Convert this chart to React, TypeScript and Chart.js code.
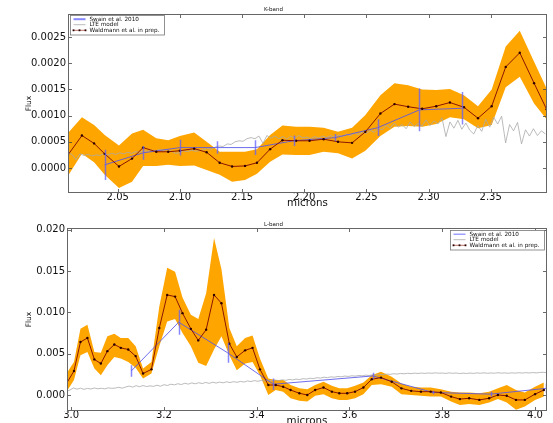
import { useEffect, useRef } from "react";
import { Chart, registerables } from "chart.js";

Chart.register(...registerables);

const FONT = "'DejaVu Sans', 'Liberation Sans', sans-serif";

// ---------- K-band ----------
const kWaveX = [2.010, 2.0212, 2.031, 2.0395, 2.051, 2.0615, 2.0704, 2.081, 2.0906, 2.100, 2.1115, 2.1215, 2.132, 2.142, 2.1524, 2.162, 2.1726, 2.1825, 2.1935, 2.2043, 2.2156, 2.2272, 2.2385, 2.2492, 2.2613, 2.2726, 2.2836, 2.2949, 2.3062, 2.3172, 2.3285, 2.3398, 2.3508, 2.3621, 2.3734, 2.3849, 2.395];
const kWaldmann = [0.00025, 0.00062, 0.00047, 0.00027, 0.00003, 0.00018, 0.00039, 0.00031, 0.00031, 0.00033, 0.00037, 0.00030, 0.00010, 0.00003, 0.00004, 0.00010, 0.00036, 0.00053, 0.00052, 0.00052, 0.00055, 0.00050, 0.00048, 0.00069, 0.00104, 0.00122, 0.00117, 0.00113, 0.00118, 0.00125, 0.00116, 0.00095, 0.00118, 0.00193, 0.00220, 0.00162, 0.00112];
const kUpper = [0.00067, 0.00097, 0.00082, 0.00063, 0.00043, 0.00066, 0.00073, 0.00057, 0.00053, 0.00061, 0.00068, 0.00050, 0.00031, 0.00031, 0.00031, 0.00036, 0.00063, 0.00081, 0.00079, 0.00079, 0.00077, 0.00069, 0.00077, 0.00101, 0.00139, 0.00162, 0.00158, 0.00150, 0.00149, 0.00151, 0.00139, 0.00118, 0.00150, 0.00232, 0.00262, 0.00203, 0.00152];
const kLower = [-0.00015, 0.00027, 0.00011, -0.00013, -0.00038, -0.00026, 0.00004, 0.00004, 0.00006, 0.00004, 0.00005, -0.00004, -0.00013, -0.00026, -0.00023, -0.00011, 0.00012, 0.00026, 0.00025, 0.00025, 0.00031, 0.00028, 0.00018, 0.00033, 0.00061, 0.00079, 0.00080, 0.00079, 0.00084, 0.00097, 0.00093, 0.00076, 0.00082, 0.00154, 0.00174, 0.00123, 0.00093];
const kSwainX = [2.0395, 2.0704, 2.100, 2.130, 2.1605, 2.1914, 2.225, 2.2591, 2.2927, 2.3266];
const kSwain = [0.00006, 0.00029, 0.00039, 0.00039, 0.00039, 0.00052, 0.00058, 0.00077, 0.00111, 0.00114];
const kSwainErr = [0.00029, 0.00013, 0.00015, 0.00012, 0.00014, 0.00010, 0.00007, 0.00016, 0.00041, 0.00031];
const kLteStart = 2.010;
const kLteStep = 0.0032;
const kLte = [
  0.00029, 0.00026, 0.00016, 0.00027, 0.00024, 0.00026, 0.00023, 0.00025, 0.00024, 0.00027,
  0.00025, 0.00028, 0.00026, 0.00029, 0.00027, 0.00030, 0.00028, 0.00031, 0.00030, 0.00033,
  0.00032, 0.00034, 0.00033, 0.00035, 0.00034, 0.00035, 0.00032, 0.00028, 0.00029, 0.00033,
  0.00031, 0.00034, 0.00032, 0.00033, 0.00035, 0.00037, 0.00036, 0.00040, 0.00042, 0.00041,
  0.00046, 0.00045, 0.00050, 0.00052, 0.00051, 0.00056, 0.00058, 0.00056, 0.00061, 0.00047,
  0.00062, 0.00057, 0.00061, 0.00056, 0.00060, 0.00055, 0.00061, 0.00057, 0.00062, 0.00058,
  0.00059, 0.00056, 0.00060, 0.00057, 0.00061, 0.00058, 0.00062, 0.00059, 0.00063, 0.00060,
  0.00065, 0.00062, 0.00067, 0.00064, 0.00069, 0.00066, 0.00072, 0.00068, 0.00076, 0.00073,
  0.00082, 0.00076, 0.00086, 0.00078, 0.00083, 0.00075, 0.00088, 0.00079, 0.00085, 0.00080,
  0.00092, 0.00081, 0.00090, 0.00084, 0.00096, 0.00060, 0.00088, 0.00076, 0.00091, 0.00074,
  0.00086, 0.00072, 0.00065, 0.00081, 0.00070, 0.00093, 0.00078, 0.00097, 0.00084, 0.00099,
  0.00048, 0.00083, 0.00071, 0.00087, 0.00046, 0.00073, 0.00061, 0.00075, 0.00062, 0.00071,
  0.00065,
];
const kXTicks = [2.05, 2.10, 2.15, 2.20, 2.25, 2.30, 2.35];
const kXTickLabels = ["2.05", "2.10", "2.15", "2.20", "2.25", "2.30", "2.35"];
const kYTicks = [0, 0.0005, 0.001, 0.0015, 0.002, 0.0025];
const kYTickLabels = ["0.0000", "0.0005", "0.0010", "0.0015", "0.0020", "0.0025"];

// ---------- L-band ----------
const lWaveX = [2.990, 3.006, 3.020, 3.035, 3.050, 3.064, 3.078, 3.093, 3.107, 3.123, 3.139, 3.155, 3.173, 3.190, 3.207, 3.224, 3.240, 3.258, 3.274, 3.291, 3.308, 3.324, 3.341, 3.357, 3.375, 3.391, 3.407, 3.425, 3.441, 3.457, 3.473, 3.492, 3.509, 3.526, 3.544, 3.562, 3.578, 3.595, 3.612, 3.630, 3.648, 3.668, 3.691, 3.712, 3.733, 3.754, 3.775, 3.797, 3.819, 3.838, 3.858, 3.880, 3.901, 3.920, 3.939, 3.959, 3.978, 4.000, 4.019];
const lWaldmann = [0.0014, 0.0029, 0.0064, 0.0069, 0.0043, 0.0038, 0.0053, 0.0061, 0.0057, 0.0055, 0.0047, 0.0026, 0.0031, 0.0081, 0.0121, 0.0119, 0.0099, 0.0080, 0.0066, 0.0079, 0.0121, 0.0111, 0.0062, 0.0046, 0.0054, 0.0057, 0.0031, 0.0012, 0.0012, 0.0010, 0.0006, 0.0002, 0.0000, 0.0006, 0.0009, 0.0004, 0.0002, 0.0002, 0.0004, 0.0009, 0.0019, 0.0021, 0.0016, 0.0008, 0.0005, 0.0004, 0.0004, 0.0003, -0.0002, -0.0005, -0.0004, -0.0006, -0.0004, 0.0000, -0.0001, -0.0006, -0.0006, 0.0001, 0.0006];
const lUpper = [0.0026, 0.0040, 0.0080, 0.0085, 0.0052, 0.0051, 0.0071, 0.0074, 0.0069, 0.0069, 0.0059, 0.0032, 0.0040, 0.0107, 0.0154, 0.0149, 0.0118, 0.0097, 0.0092, 0.0123, 0.0190, 0.0152, 0.0081, 0.0059, 0.0069, 0.0072, 0.0044, 0.0020, 0.0018, 0.0018, 0.0012, 0.0008, 0.0007, 0.0012, 0.0016, 0.0011, 0.0008, 0.0008, 0.0011, 0.0015, 0.0024, 0.0028, 0.0022, 0.0014, 0.0010, 0.0009, 0.0009, 0.0007, 0.0004, 0.0003, 0.0003, 0.0002, 0.0004, 0.0008, 0.0012, 0.0006, 0.0003, 0.0010, 0.0015];
const lLower = [0.0004, 0.0018, 0.0048, 0.0052, 0.0032, 0.0024, 0.0036, 0.0046, 0.0044, 0.0040, 0.0033, 0.0020, 0.0026, 0.0059, 0.0089, 0.0092, 0.0075, 0.0059, 0.0039, 0.0035, 0.0055, 0.0071, 0.0048, 0.0030, 0.0038, 0.0040, 0.0024, 0.0000, 0.0006, 0.0004, -0.0004, -0.0007, -0.0008, -0.0001, 0.0001, -0.0004, -0.0006, -0.0006, -0.0004, 0.0001, 0.0012, 0.0013, 0.0010, 0.0001, 0.0000, -0.0001, -0.0002, -0.0002, -0.0008, -0.0012, -0.0011, -0.0012, -0.0009, -0.0005, -0.0009, -0.0018, -0.0014, -0.0006, -0.0002];
const lSwainX = [3.1295, 3.2317, 3.3373, 3.4357, 3.650, 3.7807, 3.9045, 4.024];
const lSwain = [0.0029, 0.0088, 0.0051, 0.0013, 0.0023, 0.0003, 0.0001, 0.0008];
const lSwainErr = [0.0007, 0.0015, 0.0012, 0.0007, 0.0004, 0.0002, 0.0003, 0.0006];
const lLteStart = 2.990;
const lLteStep = 0.0075;
const lLte = [
  0.00045, 0.00060, 0.00085, 0.00070, 0.00082, 0.00068, 0.00079, 0.00072, 0.00084, 0.00075,
  0.00081, 0.00074, 0.00086, 0.00080, 0.00083, 0.00093, 0.00082, 0.00096, 0.00108, 0.00095,
  0.00112, 0.00100, 0.00114, 0.00102, 0.00110, 0.00104, 0.00118, 0.00106, 0.00124, 0.00115,
  0.00130, 0.00122, 0.00136, 0.00126, 0.00142, 0.00131, 0.00146, 0.00135, 0.00148, 0.00138,
  0.00152, 0.00140, 0.00154, 0.00144, 0.00156, 0.00147, 0.00159, 0.00150, 0.00161, 0.00153,
  0.00164, 0.00156, 0.00170, 0.00162, 0.00174, 0.00165, 0.00176, 0.00168, 0.00179, 0.00172,
  0.00181, 0.00174, 0.00183, 0.00177, 0.00188, 0.00182, 0.00192, 0.00186, 0.00197, 0.00192,
  0.00203, 0.00198, 0.00209, 0.00204, 0.00215, 0.00210, 0.00219, 0.00215, 0.00224, 0.00220,
  0.00229, 0.00224, 0.00232, 0.00228, 0.00236, 0.00232, 0.00240, 0.00236, 0.00244, 0.00240,
  0.00249, 0.00245, 0.00253, 0.00249, 0.00257, 0.00253, 0.00260, 0.00256, 0.00262, 0.00258,
  0.00264, 0.00260, 0.00265, 0.00261, 0.00266, 0.00262, 0.00268, 0.00263, 0.00265, 0.00261,
  0.00267, 0.00262, 0.00266, 0.00259, 0.00264, 0.00260, 0.00265, 0.00261, 0.00267, 0.00263,
  0.00268, 0.00262, 0.00266, 0.00263, 0.00269, 0.00264, 0.00267, 0.00262, 0.00268, 0.00264,
  0.00269, 0.00265, 0.00270, 0.00266, 0.00271, 0.00267, 0.00272, 0.00274, 0.00270,
];
const lXTicks = [3.0, 3.2, 3.4, 3.6, 3.8, 4.0];
const lXTickLabels = ["3.0", "3.2", "3.4", "3.6", "3.8", "4.0"];
const lYTicks = [0, 0.005, 0.01, 0.015, 0.02];
const lYTickLabels = ["0.000", "0.005", "0.010", "0.015", "0.020"];

const seriesNames = ["Swain et al. 2010", "LTE model", "Waldmann et al. in prep."];

const ORANGE = "#ffa500";
const RED = "#8b1500";
const DOT = "#2a0000";
const BLUE = "rgba(85,85,235,0.95)";
const BAR_BLUE = "rgba(95,95,255,0.75)";
const GREY = "#a9a9a9";

type Panel = {
  title: string;
  xMin: number; xMax: number; yMin: number; yMax: number;
  xTicks: number[]; xTickLabels: string[]; yTicks: number[]; yTickLabels: string[];
  wX: number[]; wY: number[]; wUp: number[]; wLo: number[];
  sX: number[]; sY: number[]; sErr: number[];
  lteStart: number; lteStep: number; lte: number[];
  yAxisWidth: number; xAxisHeight: number;
  titlePadTop: number; titlePadBottom: number; xTitlePadBottom: number;
  legendSide: "left" | "right"; legendDx: number; legendDy: number;
  swainHandleWidth: number;
};

const pts = (xs: number[], ys: number[]) => xs.map((x, i) => ({ x, y: ys[i] }));

function makeConfig(p: Panel): any {
  const lteData = p.lte.map((y, i) => ({ x: p.lteStart + i * p.lteStep, y }));

  const errorBars = {
    id: "errorBars",
    afterDatasetsDraw(chart: any) {
      const { ctx, scales, chartArea: a } = chart;
      ctx.save();
      ctx.beginPath();
      ctx.rect(a.left, a.top, a.right - a.left, a.bottom - a.top);
      ctx.clip();
      ctx.strokeStyle = BAR_BLUE;
      ctx.lineWidth = 1.5;
      ctx.beginPath();
      p.sX.forEach((x, i) => {
        const px = Math.round(scales.x.getPixelForValue(x)) + 0.5;
        ctx.moveTo(px, scales.y.getPixelForValue(p.sY[i] + p.sErr[i]));
        ctx.lineTo(px, scales.y.getPixelForValue(p.sY[i] - p.sErr[i]));
      });
      ctx.stroke();
      ctx.restore();
    },
  };

  const frame = {
    id: "frame",
    afterDatasetsDraw(chart: any) {
      const { ctx, scales, chartArea: a } = chart;
      ctx.save();
      ctx.strokeStyle = "#444";
      ctx.lineWidth = 0.8;
      ctx.beginPath();
      p.xTicks.forEach((v) => {
        const px = Math.round(scales.x.getPixelForValue(v)) + 0.5;
        ctx.moveTo(px, a.bottom); ctx.lineTo(px, a.bottom - 4);
        ctx.moveTo(px, a.top); ctx.lineTo(px, a.top + 4);
      });
      p.yTicks.forEach((v) => {
        const py = Math.round(scales.y.getPixelForValue(v)) + 0.5;
        ctx.moveTo(a.left, py); ctx.lineTo(a.left + 4, py);
        ctx.moveTo(a.right, py); ctx.lineTo(a.right - 4, py);
      });
      ctx.stroke();
      ctx.strokeStyle = "#666";
      ctx.lineWidth = 1;
      ctx.strokeRect(Math.round(a.left) + 0.5, Math.round(a.top) + 0.5,
        Math.round(a.right - a.left) - 1, Math.round(a.bottom - a.top) - 1);
      ctx.restore();
    },
  };

  const legendBox = {
    id: "legendBox",
    afterDraw(chart: any) {
      const { ctx, chartArea: a } = chart;
      const w = 94, h = 19.5;
      const left = p.legendSide === "left" ? a.left + p.legendDx : a.right - p.legendDx - w;
      const top = a.top + p.legendDy;
      ctx.save();
      ctx.fillStyle = "#fff";
      ctx.fillRect(left, top, w, h);
      ctx.strokeStyle = "#777";
      ctx.lineWidth = 0.8;
      ctx.strokeRect(Math.round(left) + 0.5, Math.round(top) + 0.5, w, h);
      const rows = [top + 4.2, top + 9.7, top + 15.3];
      const hx0 = left + 3.5, hx1 = left + 15.5;
      // Swain handle
      ctx.strokeStyle = BAR_BLUE;
      ctx.lineWidth = p.swainHandleWidth;
      ctx.beginPath(); ctx.moveTo(hx0, rows[0]); ctx.lineTo(hx1, rows[0]); ctx.stroke();
      // LTE handle
      ctx.strokeStyle = GREY;
      ctx.lineWidth = 0.8;
      ctx.beginPath(); ctx.moveTo(hx0, rows[1]); ctx.lineTo(hx1, rows[1]); ctx.stroke();
      // Waldmann handle
      ctx.strokeStyle = RED;
      ctx.lineWidth = 0.6;
      ctx.beginPath(); ctx.moveTo(hx0, rows[2]); ctx.lineTo(hx1, rows[2]); ctx.stroke();
      ctx.fillStyle = DOT;
      [hx0, (hx0 + hx1) / 2, hx1].forEach((x) => ctx.fillRect(x - 0.9, rows[2] - 0.9, 1.8, 1.8));
      ctx.fillStyle = "#111";
      ctx.font = `5.7px ${FONT}`;
      ctx.textBaseline = "middle";
      ctx.textAlign = "left";
      seriesNames.forEach((t, i) => ctx.fillText(t, left + 19.5, rows[i]));
      ctx.restore();
    },
  };

  return {
    type: "line",
    data: {
      datasets: [
        {
          label: seriesNames[2],
          data: pts(p.wX, p.wY),
          borderColor: RED,
          borderWidth: 1,
          pointRadius: 1.2,
          pointBackgroundColor: DOT,
          pointBorderWidth: 0,
          fill: false,
          tension: 0,
        },
        {
          label: seriesNames[0],
          data: pts(p.sX, p.sY),
          borderColor: BLUE,
          borderWidth: 0.9,
          pointRadius: 0,
          fill: false,
          tension: 0,
        },
        {
          label: seriesNames[1],
          data: lteData,
          borderColor: GREY,
          borderWidth: 0.8,
          pointRadius: 0,
          fill: false,
          tension: 0,
        },
        {
          label: "upper",
          data: pts(p.wX, p.wUp),
          borderWidth: 0,
          borderColor: "rgba(0,0,0,0)",
          backgroundColor: ORANGE,
          pointRadius: 0,
          fill: "+1",
          tension: 0,
        },
        {
          label: "lower",
          data: pts(p.wX, p.wLo),
          borderWidth: 0,
          borderColor: "rgba(0,0,0,0)",
          pointRadius: 0,
          fill: false,
          tension: 0,
        },
      ],
    },
    options: {
      responsive: false,
      animation: false,
      devicePixelRatio: 1,
      events: [],
      layout: { padding: { left: 0, right: 6, top: 0, bottom: 0 } },
      plugins: {
        legend: { display: false },
        tooltip: { enabled: false },
        title: {
          display: true,
          text: p.title,
          color: "#111",
          font: { family: FONT, size: 5.5, weight: "normal", lineHeight: 1 },
          padding: { top: p.titlePadTop, bottom: p.titlePadBottom },
        },
      },
      scales: {
        x: {
          type: "linear",
          min: p.xMin,
          max: p.xMax,
          grid: { display: false, drawTicks: false },
          border: { display: false },
          afterBuildTicks: (s: any) => { s.ticks = p.xTicks.map((value) => ({ value })); },
          afterFit: (s: any) => { s.height = p.xAxisHeight; },
          ticks: {
            autoSkip: false,
            maxRotation: 0,
            padding: -2,
            color: "#111",
            font: { family: FONT, size: 10 },
            callback: (_v: any, i: number) => p.xTickLabels[i],
          },
          title: {
            display: true,
            text: "microns",
            color: "#111",
            font: { family: FONT, size: 10.3, lineHeight: 1.2 },
            padding: { top: 0, bottom: p.xTitlePadBottom },
          },
        },
        y: {
          type: "linear",
          min: p.yMin,
          max: p.yMax,
          grid: { display: false, drawTicks: false },
          border: { display: false },
          afterBuildTicks: (s: any) => { s.ticks = p.yTicks.map((value) => ({ value })); },
          afterFit: (s: any) => { s.width = p.yAxisWidth; },
          ticks: {
            autoSkip: false,
            padding: 2,
            color: "#111",
            font: { family: FONT, size: 10 },
            callback: (_v: any, i: number) => p.yTickLabels[i],
          },
          title: {
            display: true,
            text: "Flux",
            color: "#111",
            font: { family: FONT, size: 7.5, lineHeight: 1.2 },
            padding: { top: 24.5, bottom: 0 },
          },
        },
      },
    },
    plugins: [errorBars, frame, legendBox],
  };
}

const kPanel: Panel = {
  title: "K-band",
  xMin: 2.010, xMax: 2.3953, yMin: -0.000477, yMax: 0.00294,
  xTicks: kXTicks, xTickLabels: kXTickLabels, yTicks: kYTicks, yTickLabels: kYTickLabels,
  wX: kWaveX, wY: kWaldmann, wUp: kUpper, wLo: kLower,
  sX: kSwainX, sY: kSwain, sErr: kSwainErr,
  lteStart: kLteStart, lteStep: kLteStep, lte: kLte,
  yAxisWidth: 68, xAxisHeight: 17,
  titlePadTop: 7.25, titlePadBottom: 1.25, xTitlePadBottom: 0.5,
  legendSide: "left", legendDx: 2, legendDy: 1,
  swainHandleWidth: 2,
};

const lPanel: Panel = {
  title: "L-band",
  xMin: 2.991, xMax: 4.0258, yMin: -0.00194, yMax: 0.0202,
  xTicks: lXTicks, xTickLabels: lXTickLabels, yTicks: lYTicks, yTickLabels: lYTickLabels,
  wX: lWaveX, wY: lWaldmann, wUp: lUpper, wLo: lLower,
  sX: lSwainX, sY: lSwain, sErr: lSwainErr,
  lteStart: lLteStart, lteStep: lLteStep, lte: lLte,
  yAxisWidth: 67, xAxisHeight: 19,
  titlePadTop: 12.25, titlePadBottom: 0.25, xTitlePadBottom: 2.5,
  legendSide: "right", legendDx: 3, legendDy: 2,
  swainHandleWidth: 1.2,
};

export default function App() {
  const topRef = useRef<HTMLCanvasElement>(null);
  const bottomRef = useRef<HTMLCanvasElement>(null);

  useEffect(() => {
    const top = new Chart(topRef.current as HTMLCanvasElement, makeConfig(kPanel));
    const bottom = new Chart(bottomRef.current as HTMLCanvasElement, makeConfig(lPanel));
    return () => {
      top.destroy();
      bottom.destroy();
    };
  }, []);

  return (
    <div style={{ position: "fixed", left: 0, top: 0, width: 553, height: 423, overflow: "hidden", background: "#fff" }}>
      <canvas ref={topRef} width={553} height={210} style={{ position: "absolute", left: 0, top: 0, display: "block" }} />
      <canvas ref={bottomRef} width={553} height={220} style={{ position: "absolute", left: 0, top: 210, display: "block" }} />
    </div>
  );
}
